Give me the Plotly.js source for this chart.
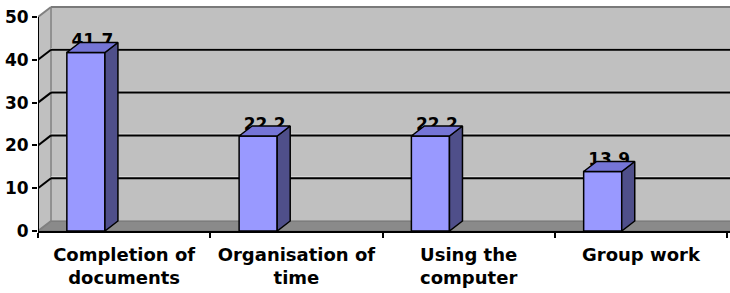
<!DOCTYPE html>
<html>
<head>
<meta charset="utf-8">
<script src="https://cdn.plot.ly/plotly-3.0.1.min.js"></script>
<style>html,body{margin:0;padding:0;background:#fff;}#chart{width:730px;height:293px;}</style>
</head>
<body>
<div id="chart"></div>
<script>
// ---- data ----
const categories = ["Completion of<br>documents", "Organisation of<br>time", "Using the<br>computer", "Group work"];
const values = [41.7, 22.2, 22.2, 13.9];
const valueLabels = ["41.7", "22.2", "22.2", "13.9"];
const yTicks = [0, 10, 20, 30, 40, 50];

// ---- geometry / style ----
const BAR_OFF = -0.222, BAR_W = 0.221;   // bar centre offset and width (category units)
const DX = 0.0755, DY = 2.336;           // 3D depth offset
const XMIN = -0.5, XMAX = 3.517, YMAX = 52.8;
const FONT = "DejaVu Sans";

const idx = categories.map((_, i) => i);
const barX = idx.map(i => i + BAR_OFF);

// side and top faces built from the data
const sideX = [], sideY = [], topX = [], topY = [];
idx.forEach(i => {
  const xl = barX[i] - BAR_W / 2, xr = barX[i] + BAR_W / 2, v = values[i];
  sideX.push(xr, xr + DX, xr + DX, xr, xr, null);
  sideY.push(0, DY, v + DY, v, 0, null);
  topX.push(xl, xl + DX, xr + DX, xr, xl, null);
  topY.push(v, v + DY, v + DY, v, v, null);
});

const traces = [
  { type: "bar", x: barX, y: values, width: idx.map(() => BAR_W),
    marker: { color: "#9999FF", line: { color: "#000", width: 1.5 } },
    hoverinfo: "skip" },
  { type: "scatter", mode: "text", x: barX.map(x => x + DX / 2), y: values.map(v => v + DY * 1.05),
    text: valueLabels, textposition: "middle center",
    textfont: { family: FONT, size: 17, color: "#000", weight: "bold" }, cliponaxis: false, hoverinfo: "skip" },
  { type: "scatter", mode: "lines", x: sideX, y: sideY, fill: "toself", fillcolor: "#4F4F8A",
    line: { color: "#000", width: 1.5 }, hoverinfo: "skip" },
  { type: "scatter", mode: "lines", x: topX, y: topY, fill: "toself", fillcolor: "#7575D6",
    line: { color: "#000", width: 1.5 }, hoverinfo: "skip" }
];

const shapes = [];
// side wall
shapes.push({ type: "path", layer: "below", xref: "x", yref: "y",
  path: `M ${XMIN},0 L ${XMIN},50 L ${XMIN + DX},${50 + DY} L ${XMIN + DX},${DY} Z`,
  fillcolor: "#C0C0C0", line: { width: 0 } });
// back wall
shapes.push({ type: "rect", layer: "below", xref: "x", yref: "y",
  x0: XMIN + DX, x1: XMAX + 0.1, y0: DY, y1: 50 + DY,
  fillcolor: "#C0C0C0", line: { width: 0 } });
// floor
shapes.push({ type: "path", layer: "below", xref: "x", yref: "y",
  path: `M ${XMIN},0 L ${XMIN + DX},${DY} L ${XMAX + 0.1},${DY} L ${XMAX + 0.1},0 Z`,
  fillcolor: "#8A8A8A", line: { color: "#707070", width: 1 } });
// back wall left edge & top edge
shapes.push({ type: "line", layer: "below", xref: "x", yref: "y",
  x0: XMIN + DX, x1: XMIN + DX, y0: DY, y1: 50 + DY, line: { color: "#808080", width: 1.5 } });
shapes.push({ type: "line", layer: "below", xref: "x", yref: "y",
  x0: XMIN + DX, x1: XMAX + 0.1, y0: 50 + DY, y1: 50 + DY, line: { color: "#7A7A7A", width: 2 } });
// gridlines on back wall + diagonals to the axis
yTicks.forEach(v => {
  if (v > 0 && v < 50) {
    shapes.push({ type: "line", layer: "below", xref: "x", yref: "y",
      x0: XMIN + DX, x1: XMAX + 0.1, y0: v + DY + 0.3, y1: v + DY + 0.3, line: { color: "#E6E6E6", width: 1 } });
    shapes.push({ type: "line", layer: "below", xref: "x", yref: "y",
      x0: XMIN + DX, x1: XMAX + 0.1, y0: v + DY, y1: v + DY, line: { color: "#000", width: 2 } });
  }
  const grey = (v === 50 || v === 0);
  shapes.push({ type: "line", layer: "below", xref: "x", yref: "y",
    x0: XMIN, x1: XMIN + DX, y0: v, y1: v + DY, line: { color: grey ? "#808080" : "#000", width: 2 } });
});
// front y-axis line
shapes.push({ type: "line", layer: "above", xref: "x", yref: "y",
  x0: XMIN, x1: XMIN, y0: 0, y1: 50, line: { color: "#000", width: 2 } });

const layout = {
  width: 730, height: 293,
  margin: { l: 38, r: 0, t: 5, b: 62 },
  paper_bgcolor: "#fff", plot_bgcolor: "#fff",
  showlegend: false,
  xaxis: {
    range: [XMIN, XMAX], tickmode: "array", tickvals: idx, ticktext: categories,
    ticks: "outside", ticklen: 0, tickcolor: "#000", ticklabelstandoff: 6,
    minor: { tickmode: "array", tickvals: [-0.5, 0.5, 1.5, 2.5, 3.5], ticks: "outside",
             ticklen: 5, tickwidth: 2, tickcolor: "#000", showgrid: false },
    showline: true, linecolor: "#000", linewidth: 2, showgrid: false, zeroline: false,
    tickfont: { family: FONT, size: 18, color: "#000", weight: "bold" },
    fixedrange: true
  },
  yaxis: {
    range: [0, YMAX], tickmode: "array", tickvals: yTicks,
    ticks: "outside", ticklen: 5, tickwidth: 2, tickcolor: "#000",
    showline: false, showgrid: false, zeroline: false,
    tickfont: { family: FONT, size: 17, color: "#000", weight: "bold" },
    fixedrange: true
  },
  shapes: shapes
};

Plotly.newPlot("chart", traces, layout, { staticPlot: true, displayModeBar: false });
</script>
</body>
</html>
